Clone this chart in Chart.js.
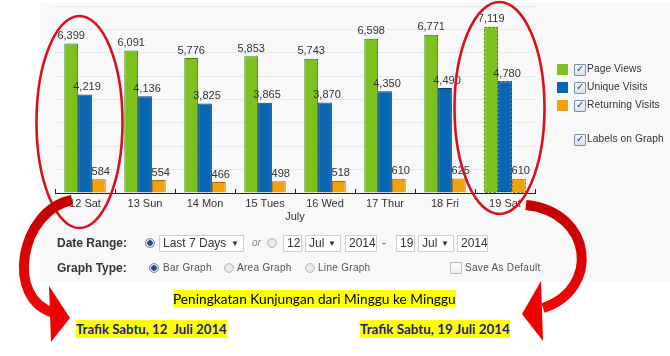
<!DOCTYPE html>
<html>
<head>
<meta charset="utf-8">
<script src="https://cdn.jsdelivr.net/npm/chart.js@4/dist/chart.umd.min.js"></script>
<style>
  html, body { margin:0; padding:0; background:#ffffff; }
  body { width:670px; height:356px; position:relative; overflow:hidden; font-family: Arial, "Liberation Sans", sans-serif; color:#333; }
  #panel { position:absolute; left:40px; top:3px; width:630px; height:279px; background:#f8f8f8; }
  #chartWrap { position:absolute; left:0; top:0; width:670px; height:240px; }
  #arrowCanvas { position:absolute; left:0; top:0; }
  .abs { position:absolute; white-space:nowrap; }
  .sq { position:absolute; width:11px; height:11px; }
  .cb { position:absolute; width:10px; height:10px; border:1px solid #7f8fa8; background:linear-gradient(#f4f7fb,#d9e1ec); border-radius:1px; }
  .cb .ck { position:absolute; left:1px; top:-2px; font-size:10px; line-height:12px; color:#1f3f86; font-weight:bold; font-family:"DejaVu Sans", sans-serif; }
  .cb.off { background:linear-gradient(#fbfbfb,#eeeeee); border-color:#bdbdbd; }
  .lg { font-size:10.2px; color:#333; letter-spacing:0.1px; }
  .lbl { font-size:12px; font-weight:bold; color:#333; }
  .radio { position:absolute; width:8px; height:8px; border-radius:50%; border:1px solid #b8b8b8; background:radial-gradient(circle, #f3f3f3 0%, #dcdcdc 100%); }
  .radio.on { border-color:#7a8aa0; background:radial-gradient(circle, #2e4e78 0 2.5px, #cfd9e6 3px, #eef2f7 100%); }
  .sel { position:absolute; height:15px; border:1px solid #cfcfcf; background:#fff; font-size:12px; line-height:15px; color:#333; box-sizing:content-box; }
  .sel .t { position:absolute; left:3px; top:0; }
  .sel .a { position:absolute; right:4px; top:0; font-size:8px; }
  .gt { font-size:10px; color:#555; letter-spacing:0.3px; }
  .hl { background:#ffff00; }
  .cap { font-family: Lato, "Open Sans", sans-serif; }
</style>
</head>
<body>
<div id="panel"></div>
<div id="chartWrap"><canvas id="c" width="670" height="240"></canvas></div>

<!-- legend -->
<div id="legend"></div>
<div class="cb" style="left:574px;top:134px;"><span class="ck">&#10003;</span></div>
<div class="abs lg" style="left:587px;top:133px;">Labels on Graph</div>

<!-- controls -->
<div class="abs lbl" style="left:57px;top:236px;">Date Range:</div>
<div class="radio on" style="left:145px;top:238px;"></div>
<div class="sel" style="left:159px;top:235px;width:83px;"><span class="t">Last 7 Days</span><span class="a">&#9660;</span></div>
<div class="abs" style="left:252px;top:237px;font-size:10px;font-style:italic;color:#888;">or</div>
<div class="radio" style="left:267px;top:238px;"></div>
<div class="sel" style="left:283px;top:235px;width:17px;"><span class="t">12</span></div>
<div class="sel" style="left:305px;top:235px;width:34px;"><span class="t">Jul</span><span class="a">&#9660;</span></div>
<div class="sel" style="left:345px;top:235px;width:30px;"><span class="t">2014</span></div>
<div class="abs" style="left:382px;top:236px;font-size:12px;color:#555;">-</div>
<div class="sel" style="left:396px;top:235px;width:17px;"><span class="t">19</span></div>
<div class="sel" style="left:418px;top:235px;width:34px;"><span class="t">Jul</span><span class="a">&#9660;</span></div>
<div class="sel" style="left:457px;top:235px;width:29px;"><span class="t">2014</span></div>

<div class="abs lbl" style="left:57px;top:261px;">Graph Type:</div>
<div class="radio on" style="left:149px;top:263px;"></div>
<div class="abs gt" style="left:163px;top:262px;">Bar Graph</div>
<div class="radio" style="left:224px;top:263px;"></div>
<div class="abs gt" style="left:237px;top:262px;">Area Graph</div>
<div class="radio" style="left:305px;top:263px;"></div>
<div class="abs gt" style="left:318px;top:262px;">Line Graph</div>
<div class="cb off" style="left:450px;top:262px;"></div>
<div class="abs gt" style="left:465px;top:262px;">Save As Default</div>

<!-- captions -->
<div class="abs cap hl" style="left:173px;top:290px;font-size:13.7px;line-height:17px;color:#000;">Peningkatan Kunjungan dari Minggu ke Minggu</div>
<div class="abs cap hl" style="left:76px;top:320px;font-size:13.2px;line-height:18px;font-weight:bold;color:#1c1c86;">Trafik Sabtu, 12&nbsp; Juli 2014</div>
<div class="abs cap hl" style="left:360px;top:320px;font-size:13.4px;line-height:18px;font-weight:bold;color:#1c1c86;">Trafik Sabtu, 19 Juli 2014</div>

<canvas id="arrowCanvas" width="670" height="356"></canvas>

<script>
const categories = ['12 Sat', '13 Sun', '14 Mon', '15 Tues', '16 Wed', '17 Thur', '18 Fri', '19 Sat'];
const pageViews = [6399, 6091, 5776, 5853, 5743, 6598, 6771, 7119];
const uniqueVisits = [4219, 4136, 3825, 3865, 3870, 4350, 4490, 4780];
const returningVisits = [584, 554, 466, 498, 518, 610, 625, 610];
const seriesNames = ['Page Views', 'Unique Visits', 'Returning Visits'];
const seriesColors = ['#7bc21e', '#0866b2', '#f3a10b'];
const seriesBorders = ['#3f7d12', '#03406f', '#a86d00'];
const axisTitle = 'July';
const yMax = 8000;
const yStep = 1000;
const highlightIndex = 7;
const circledIndices = [0, 7];

// legend (HTML)
const legend = document.getElementById('legend');
seriesNames.forEach((n, i) => {
  const top = 64 + i * 18;
  legend.insertAdjacentHTML('beforeend',
    `<div class="sq" style="left:557px;top:${top}px;background:${seriesColors[i]};"></div>` +
    `<div class="cb" style="left:574px;top:${top}px;"><span class="ck">&#10003;</span></div>` +
    `<div class="abs lg" style="left:587px;top:${top - 1}px;">${n}</div>`);
});

// annotation arrows (decoration, plain 2D canvas)
(function drawArrows() {
  const a = document.getElementById('arrowCanvas').getContext('2d');
  const g = a.createLinearGradient(0, 200, 0, 340);
  g.addColorStop(0, '#c00000');
  g.addColorStop(1, '#ff0a0a');
  a.lineWidth = 10;
  a.strokeStyle = g;
  a.beginPath();
  a.moveTo(72, 200);
  a.bezierCurveTo(20, 210, 4, 300, 55, 313);
  a.stroke();
  a.beginPath();
  a.moveTo(526, 205);
  a.bezierCurveTo(594, 212, 600, 290, 543, 308);
  a.stroke();
  a.fillStyle = '#ee0000';
  a.beginPath();
  a.moveTo(49, 286); a.lineTo(70, 318); a.lineTo(51, 342); a.closePath();
  a.fill();
  a.beginPath();
  a.moveTo(541, 281); a.lineTo(522, 314); a.lineTo(543, 341); a.closePath();
  a.fill();
})();

const fmt = v => v.toLocaleString('en-US');

const tickPlugin = {
  id: 'catTicks',
  afterDatasetsDraw(chart) {
    const ctx = chart.ctx;
    const xs = chart.scales.x;
    const n = chart.data.labels.length;
    const yAxis = chart.chartArea.bottom;
    ctx.save();
    ctx.strokeStyle = '#222';
    ctx.lineWidth = 1;
    ctx.beginPath();
    for (let i = 0; i <= n; i++) {
      const x = Math.round(xs.left + i * (xs.right - xs.left) / n) + 0.5;
      ctx.moveTo(x, yAxis - 4);
      ctx.lineTo(x, yAxis);
    }
    ctx.stroke();
    ctx.restore();
  }
};

const labelsPlugin = {
  id: 'valueLabels',
  afterDatasetsDraw(chart) {
    const ctx = chart.ctx;
    ctx.save();
    ctx.font = '11px Arial, "Liberation Sans", sans-serif';
    ctx.fillStyle = '#333';
    ctx.textAlign = 'center';
    ctx.textBaseline = 'bottom';
    chart.data.datasets.forEach((ds, di) => {
      const meta = chart.getDatasetMeta(di);
      meta.data.forEach((bar, i) => {
        if (i === highlightIndex) {
          ctx.save();
          ctx.setLineDash([2, 2]);
          ctx.strokeStyle = seriesBorders[di];
          ctx.lineWidth = 1;
          const w = bar.width;
          ctx.beginPath();
          ctx.rect(Math.round(bar.x - w / 2) + 0.5, Math.round(bar.y) + 0.5, Math.round(w) - 1, Math.round(bar.base - bar.y) - 1);
          ctx.stroke();
          ctx.restore();
        }
        ctx.fillText(fmt(ds.data[i]), bar.x + (di === 0 ? 0 : 2), bar.y - 2);
      });
    });
    ctx.restore();
  }
};

const ellipsePlugin = {
  id: 'ellipses',
  afterDraw(chart) {
    const ctx = chart.ctx;
    const xs = chart.scales.x;
    const spec = [{cy: 122, rx: 43, ry: 106}, {cy: 108, rx: 45, ry: 106}];
    ctx.save();
    ctx.strokeStyle = '#d8121c';
    ctx.lineWidth = 2.6;
    circledIndices.forEach((idx, k) => {
      const cx = xs.getPixelForValue(idx) - 5.5;
      ctx.beginPath();
      ctx.ellipse(cx, spec[k].cy, spec[k].rx, spec[k].ry, 0, 0, Math.PI * 2);
      ctx.stroke();
    });
    ctx.restore();
  }
};

const datasets = [pageViews, uniqueVisits, returningVisits].map((d, i) => ({
  label: seriesNames[i],
  data: d,
  backgroundColor: seriesColors[i],
  borderColor: d.map((v, j) => j === highlightIndex ? seriesColors[i] : seriesBorders[i]),
  borderWidth: 1,
  borderSkipped: 'bottom',
  categoryPercentage: 0.69,
  barPercentage: 1.0
}));

new Chart(document.getElementById('c'), {
  type: 'bar',
  data: { labels: categories, datasets },
  options: {
    responsive: false,
    animation: false,
    devicePixelRatio: 1,
    layout: { padding: { left: 55, right: 135, top: 6, bottom: 10 } },
    plugins: { legend: { display: false }, tooltip: { enabled: false } },
    scales: {
      x: {
        afterFit: (s) => { s.height = 37; },
        grid: { display: false, drawTicks: false },
        border: { display: true, color: '#222', width: 1 },
        ticks: { color: '#333', font: { size: 11 }, padding: 4, maxRotation: 0 },
        title: { display: true, text: axisTitle, color: '#333', font: { size: 11 }, padding: { top: 0, bottom: 6 } }
      },
      y: {
        min: 0, max: yMax,
        afterFit: (s) => { s.width = 0; },
        ticks: { display: false, stepSize: yStep },
        grid: { color: '#e8e8e8', drawTicks: false },
        border: { display: false }
      }
    }
  },
  plugins: [tickPlugin, labelsPlugin, ellipsePlugin]
});
</script>
</body>
</html>
